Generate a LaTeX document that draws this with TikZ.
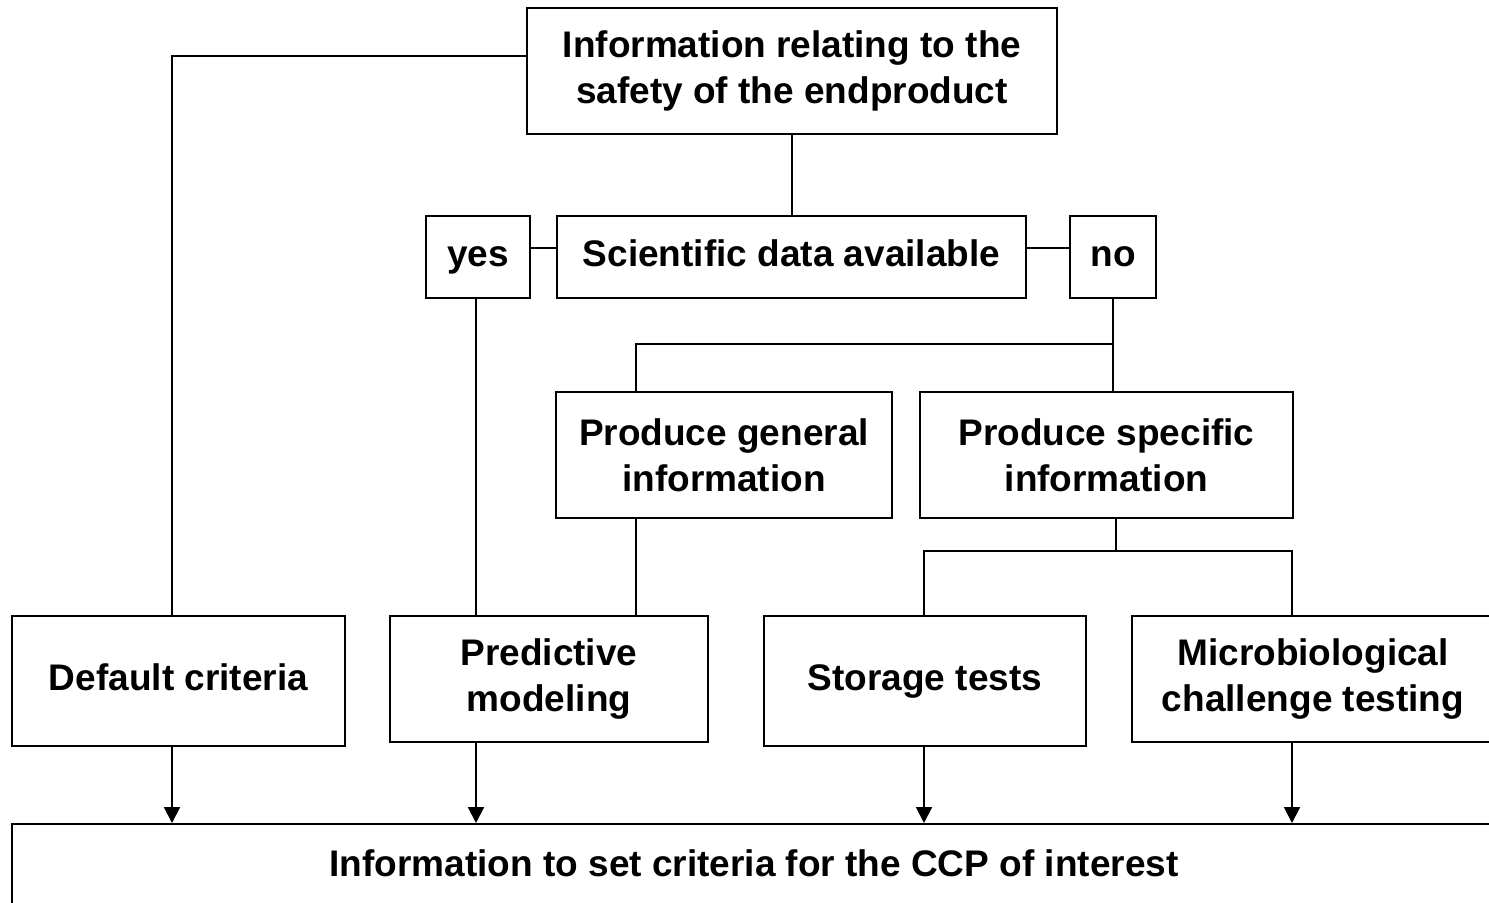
\documentclass[tikz,border=0pt]{standalone}
\usepackage{fontspec}
\setmainfont{Liberation Sans}
\usetikzlibrary{arrows.meta}
\newcommand{\vs}{\vphantom{Syp}}
\begin{document}
\begin{tikzpicture}[x=0.5pt,y=-0.5pt,
  box/.style={draw,line width=1pt,inner sep=0pt,align=center,
    font=\bfseries\fontsize{18.5}{23}\selectfont},
  ln/.style={line width=1pt},
  arr/.style={line width=1pt,-{Triangle[length=8pt,width=8pt]}}]
\useasboundingbox (0,0) rectangle (1489,902);
\node[box,minimum width=265pt,minimum height=63pt] (top) at (792,71) {Information relating to the\\safety of the endproduct};
\node[box,minimum width=234.5pt,minimum height=41pt] (sci) at (791.5,257) {\vs Scientific data available};
\node[box,minimum width=52pt,minimum height=41pt] (yes) at (478,257) {\vs yes};
\node[box,minimum width=43pt,minimum height=41pt] (no) at (1113,257) {\vs no};
\node[box,minimum width=168pt,minimum height=63pt] (gen) at (724,455) {Produce general\\information};
\node[box,minimum width=186.5pt,minimum height=63pt] (spec) at (1106.5,455) {Produce specific\\information};
\node[box,minimum width=166.5pt,minimum height=65pt] (def) at (178.5,681) {\vs Default criteria};
\node[box,minimum width=159pt,minimum height=63pt] (pred) at (549,679) {Predictive\\modeling};
\node[box,minimum width=161pt,minimum height=65pt] (stor) at (925,681) {\vs Storage tests};
\node[box,minimum width=181pt,minimum height=63pt] (micro) at (1313,679) {Microbiological\\challenge testing};
\node[box,minimum width=742pt,minimum height=43pt] (bot) at (754,867) {\vs Information to set criteria for the CCP of interest};
% coordinates
\coordinate (c1) at (172,56);
\coordinate (cy) at (0,248);
\coordinate (cg) at (636,344);
\coordinate (cn) at (1113,344);
\coordinate (cs) at (1116,551);
\coordinate (cst) at (924,551);
\coordinate (cmi) at (1292,551);
\coordinate (cpr) at (476,0);
% connectors
\draw[ln] (top.west |- c1) -- (c1) -- (c1 |- def.north);
\draw[ln] (top.south) -- (top.south |- sci.north);
\draw[ln] (yes.east |- cy) -- (sci.west |- cy);
\draw[ln] (sci.east |- cy) -- (no.west |- cy);
\draw[ln] (no.south) -- (cn) -- (no.south |- spec.north);
\draw[ln] (cn) -- (cg) -- (cg |- gen.north);
\draw[ln] (cs |- spec.south) -- (cs);
\draw[ln] (cst |- stor.north) -- (cst) -- (cmi) -- (cmi |- micro.north);
\draw[ln] (cg |- gen.south) -- (cg |- pred.north);
\draw[ln] (cpr |- yes.south) -- (cpr |- pred.north);
\draw[arr] (c1 |- def.south) -- (c1 |- bot.north);
\draw[arr] (cpr |- pred.south) -- (cpr |- bot.north);
\draw[arr] (cst |- stor.south) -- (cst |- bot.north);
\draw[arr] (cmi |- micro.south) -- (cmi |- bot.north);
\end{tikzpicture}
\end{document}
